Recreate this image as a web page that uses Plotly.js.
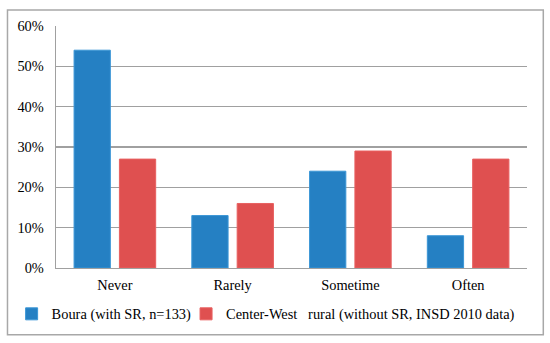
<!DOCTYPE html>
<html>
<head>
<meta charset="utf-8">
<script src="https://cdn.plot.ly/plotly-3.0.1.min.js"></script>
<style>html,body{margin:0;padding:0;background:#fff;}#chart{width:550px;height:343px;}</style>
</head>
<body>
<div id="chart"></div>
<script>
var categories = ["Never", "Rarely", "Sometime", "Often"];
var seriesNames = ["Boura (with SR, n=133)", "Center-West\u00a0\u00a0\u00a0rural (without SR, INSD 2010 data)"];
var bouraValues = [54, 13, 24, 8];
var centerWestValues = [27, 16, 29, 27];
var yTickValues = [0, 10, 20, 30, 40, 50, 60];
var yTickLabels = ["0%", "10%", "20%", "30%", "40%", "50%", "60%"];

var font = {family: "Liberation Serif, Times New Roman, serif", size: 14.4, color: "#000"};

var traces = [
  {type: "bar", x: categories, y: bouraValues, name: seriesNames[0],
   marker: {color: "#2580C3", line: {color: "#3B96D6", width: 1}}},
  {type: "bar", x: categories, y: centerWestValues, name: seriesNames[1],
   marker: {color: "#DF5050", line: {color: "#E86060", width: 1}}}
];

var layout = {
  width: 550, height: 343,
  margin: {l: 55.5, r: 23.3, t: 25.5, b: 75},
  paper_bgcolor: "#fff", plot_bgcolor: "#fff",
  font: font,
  barmode: "group", bargap: 0.23, bargroupgap: 0.2,
  showlegend: true,
  legend: {orientation: "h", x: -0.073, xanchor: "left", y: -0.19, yanchor: "middle",
           font: font, itemwidth: 30, indentation: -10,
           tracegroupgap: 0, bgcolor: "rgba(0,0,0,0)"},
  xaxis: {type: "category", showline: true, linecolor: "#A0A0A0", linewidth: 1.3,
          showgrid: false, ticks: "", ticklabelstandoff: 3, tickfont: font, fixedrange: true},
  yaxis: {range: [0, 60], tickvals: yTickValues, ticktext: yTickLabels,
          showline: true, linecolor: "#A0A0A0", linewidth: 1.3,
          showgrid: true, gridcolor: "#A0A0A0", gridwidth: 1.3,
          zeroline: false, ticks: "", ticklabelstandoff: 8, tickfont: font, fixedrange: true},
  shapes: [
    {type: "rect", xref: "paper", yref: "paper", x0: -0.103, x1: 1.0346, y0: -0.276, y1: 1.066,
     line: {color: "#A8A8A8", width: 1.5}, fillcolor: "rgba(0,0,0,0)", layer: "below"}
  ]
};

Plotly.newPlot("chart", traces, layout, {displayModeBar: false, staticPlot: true});
</script>
</body>
</html>
